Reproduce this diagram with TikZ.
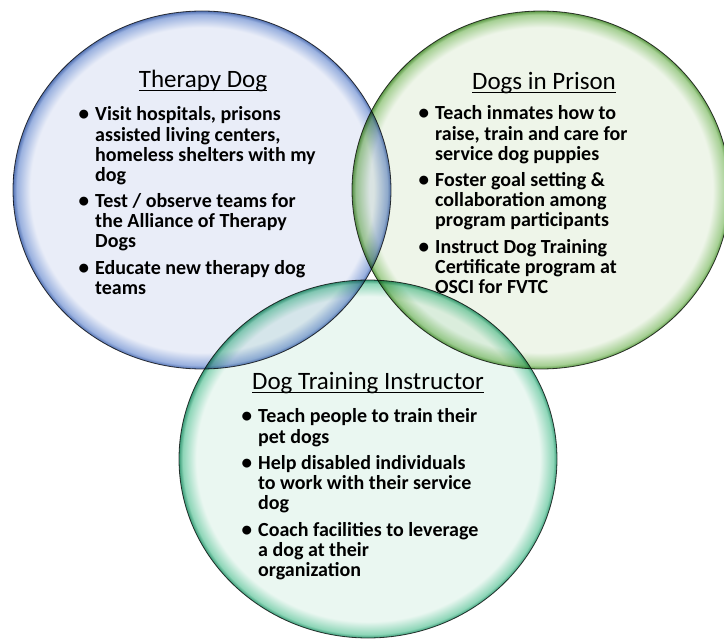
\documentclass[tikz,border=0pt]{standalone}
\usepackage{fontspec}
\setmainfont{Carlito}

% bubble colours: inside, rim, outer edge
\definecolor{tdIn}{HTML}{E9EDF8}
\definecolor{tdRim}{HTML}{9AB1DF}
\definecolor{tdDark}{HTML}{5473B4}
\definecolor{dpIn}{HTML}{EEF5E9}
\definecolor{dpRim}{HTML}{A6D094}
\definecolor{dpDark}{HTML}{5E9A48}
\definecolor{tiIn}{HTML}{EAF7F1}
\definecolor{tiRim}{HTML}{8ED6B8}
\definecolor{tiDark}{HTML}{3A9C78}

\pgfdeclareradialshading{tdBall}{\pgfpoint{0bp}{0bp}}{color(0bp)=(tdIn); color(22.7bp)=(tdIn); color(24.5bp)=(tdRim); color(25bp)=(tdDark); color(50bp)=(tdDark)}
\pgfdeclareradialshading{dpBall}{\pgfpoint{0bp}{0bp}}{color(0bp)=(dpIn); color(22.7bp)=(dpIn); color(24.5bp)=(dpRim); color(25bp)=(dpDark); color(50bp)=(dpDark)}
\pgfdeclareradialshading{tiBall}{\pgfpoint{0bp}{0bp}}{color(0bp)=(tiIn); color(22.7bp)=(tiIn); color(24.5bp)=(tiRim); color(25bp)=(tiDark); color(50bp)=(tiDark)}

\newcommand{\headfont}{\fontsize{25}{26}\selectfont}
\newcommand{\bodyfont}{\fontsize{20}{20}\selectfont\bfseries}
\newcommand{\bul}{\llap{{\fontsize{21}{20}\selectfont\textbullet}\hspace{6pt}}}
\newcommand{\headline}[1]{\setbox0\hbox{#1}\rlap{\rule[-3pt]{\wd0}{0.9pt}}\box0}

\tikzset{
  bubble/.style={draw=black!75, line width=0.8pt, blend mode=multiply},
  head/.style={inner sep=0pt, anchor=base, font=\headfont},
  list/.style={inner sep=0pt, anchor=base west, font=\bodyfont}
}

\begin{document}
\begin{tikzpicture}[x=1pt, y=-1pt, line join=round, line cap=round]
	\def\rx{189}
	\def\ry{179}
	\useasboundingbox (0,0) rectangle (724,639);
	% the three bubbles
	\shadedraw[bubble, shading=tdBall] (202,190) ellipse [x radius=\rx, y radius=\ry];
	\shadedraw[bubble, shading=dpBall] (541,190) ellipse [x radius=\rx, y radius=\ry];
	\shadedraw[bubble, shading=tiBall] (368,459) ellipse [x radius=\rx, y radius=\ry];
	% therapy dog
	\node[head] (tdHead) at (203,88) {\headline{Therapy Dog}};
	\node[list] (tdList) at (95,121) {\begin{tabular}[t]{@{}l@{}}
		\bul Visit hospitals, prisons\\
		assisted living centers,\\
		homeless shelters with my\\
		dog\\[6.7pt]
		\bul Test / observe teams for\\
		the Alliance of Therapy\\
		Dogs\\[6.7pt]
		\bul Educate new therapy dog\\
		teams
	\end{tabular}};
	% dogs in prison
	\node[head] (dpHead) at (544,90) {\headline{Dogs in Prison}};
	\node[list] (dpList) at (435,120) {\begin{tabular}[t]{@{}l@{}}
		\bul Teach inmates how to\\
		raise, train and care for\\
		service dog puppies\\[6.7pt]
		\bul Foster goal setting \&\\
		collaboration among\\
		program participants\\[6.7pt]
		\bul Instruct Dog Training\\
		Certificate program at\\
		OSCI for FVTC
	\end{tabular}};
	% dog training instructor
	\node[head] (tiHead) at (368,390) {\headline{Dog Training Instructor}};
	\node[list] (tiList) at (258,423) {\begin{tabular}[t]{@{}l@{}}
		\bul Teach people to train their\\
		pet dogs\\[6.7pt]
		\bul Help disabled individuals\\
		to work with their service\\
		dog\\[6.7pt]
		\bul Coach facilities to leverage\\
		a dog at their\\
		organization
	\end{tabular}};
\end{tikzpicture}
\end{document}
